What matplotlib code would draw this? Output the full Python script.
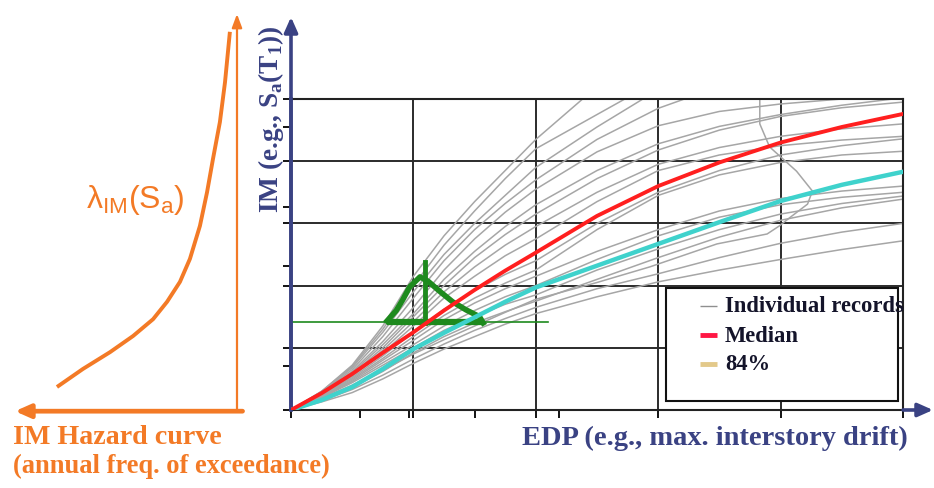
import matplotlib
matplotlib.use("Agg")
import matplotlib.pyplot as plt
import numpy as np
from matplotlib.patches import Rectangle

plt.rcParams["mathtext.fontset"] = "custom"
plt.rcParams["mathtext.rm"] = "Liberation Sans"
plt.rcParams["mathtext.sf"] = "Liberation Sans"
plt.rcParams["mathtext.it"] = "Liberation Sans:italic"
plt.rcParams["mathtext.bf"] = "Liberation Serif:bold"

# ---------------- data ----------------
# common EDP grid (drift units) for the curves
edp = [0, 0.25, 0.5, 0.75, 1.0, 1.25, 1.5, 1.75, 2.0, 2.5, 3.0, 3.5, 4.0, 4.5, 5.0]

median_im = [0, 0.27, 0.58, 0.92, 1.25, 1.60, 1.93, 2.24, 2.53, 3.12, 3.60, 3.98, 4.30, 4.55, 4.76]
p84_im = [0, 0.16, 0.37, 0.66, 0.98, 1.24, 1.49, 1.74, 1.97, 2.32, 2.67, 3.02, 3.36, 3.62, 3.83]

nan = np.nan
records_im = [
    [0, 0.30, 0.72, 1.35, 2.15, 2.80, 3.35, 3.85, 4.35, 5.20, nan, nan, nan, nan, nan],
    [0, 0.30, 0.70, 1.30, 2.00, 2.65, 3.20, 3.72, 4.20, 4.75, 5.30, nan, nan, nan, nan],
    [0, 0.29, 0.68, 1.25, 1.90, 2.50, 3.00, 3.45, 3.90, 4.55, 5.15, nan, nan, nan, nan],
    [0, 0.28, 0.65, 1.18, 1.80, 2.40, 2.90, 3.32, 3.70, 4.35, 4.85, 5.20, nan, nan, nan],
    [0, 0.27, 0.62, 1.10, 1.65, 2.25, 2.75, 3.18, 3.55, 4.15, 4.57, 4.80, 4.92, 5.00, 5.06],
    [0, 0.27, 0.60, 1.05, 1.55, 2.10, 2.55, 2.95, 3.30, 3.85, 4.28, 4.56, 4.75, 4.90, 5.02],
    [0, 0.26, 0.58, 1.00, 1.50, 2.00, 2.45, 2.82, 3.15, 3.72, 4.18, 4.50, 4.72, 4.86, 4.95],
    [0, 0.25, 0.56, 0.96, 1.42, 1.90, 2.30, 2.65, 2.95, 3.50, 3.95, 4.22, 4.40, 4.52, 4.60],
    [0, 0.25, 0.54, 0.92, 1.35, 1.80, 2.15, 2.48, 2.75, 3.35, 3.85, 4.10, 4.25, 4.34, 4.40],
    [0, 0.24, 0.52, 0.87, 1.25, 1.62, 1.92, 2.18, 2.40, 3.00, 3.50, 3.85, 4.10, 4.25, 4.36],
    [0, 0.23, 0.50, 0.83, 1.18, 1.52, 1.80, 2.04, 2.25, 2.90, 3.45, 3.78, 3.98, 4.10, 4.16],
    [0, 0.22, 0.48, 0.80, 1.12, 1.45, 1.72, 1.95, 2.15, 2.55, 2.90, 3.20, 3.40, 3.52, 3.60],
    [0, 0.21, 0.46, 0.76, 1.05, 1.35, 1.60, 1.82, 2.00, 2.42, 2.80, 3.10, 3.30, 3.42, 3.50],
    [0, 0.20, 0.44, 0.72, 1.00, 1.28, 1.50, 1.70, 1.85, 2.25, 2.59, 2.90, 3.15, 3.32, 3.44],
    [0, 0.16, 0.36, 0.62, 0.92, 1.18, 1.40, 1.58, 1.75, 2.10, 2.45, 2.78, 3.05, 3.25, 3.39],
    [0, 0.13, 0.28, 0.50, 0.75, 0.98, 1.18, 1.38, 1.55, 1.82, 2.06, 2.25, 2.42, 2.58, 2.72],
    [0, 0.15, 0.33, 0.56, 0.82, 1.06, 1.28, 1.47, 1.65, 1.95, 2.19, 2.45, 2.68, 2.86, 3.00],
]
# record with drift "resurrection" (loops back)
loop_edp = [0, 0.25, 0.5, 0.75, 1.0, 1.25, 1.5, 1.75, 2.0, 2.5, 2.93, 3.48, 3.89, 3.99,
            4.08, 4.22, 4.26, 4.13, 3.91, 3.83, 3.83]
loop_im = [0, 0.19, 0.40, 0.64, 0.90, 1.13, 1.35, 1.57, 1.78, 2.05, 2.30, 2.67, 2.83, 2.96,
           3.10, 3.31, 3.52, 3.84, 4.23, 4.60, 5.05]

# conditional EDP distribution at a given IM level (green)
im_level = 1.415
pdf_edp = [0.784, 0.86, 0.915, 0.97, 1.054, 1.12, 1.22, 1.32, 1.43, 1.54, 1.57]
pdf_im = [1.43, 1.60, 1.78, 1.98, 2.14, 2.07, 1.90, 1.74, 1.61, 1.50, 1.40]
pdf_mode_edp = 1.095
pdf_mode_top = 2.38
im_line_end = 2.1

# hazard curve: annual freq. (arbitrary, grows to the left) vs IM
haz_freq = [0.811, 0.694, 0.572, 0.468, 0.378, 0.315, 0.257, 0.212, 0.167, 0.135, 0.108,
            0.077, 0.054, 0.032]
haz_im = [0.37, 0.66, 0.93, 1.19, 1.46, 1.74, 2.06, 2.43, 2.96, 3.50, 4.04, 4.63, 5.27, 6.08]

major_ticks = [0, 1, 2, 3, 4, 5]
y_minor = [0.71, 2.32, 3.26, 4.55]
x_minor = [0.56, 0.96, 1.5, 2.19]

legend_labels = ["Individual records", "Median", "84%"]

# ---------------- styles ----------------
W, H = 934, 489
ORANGE = "#f37a26"
NAVY = "#3a4283"
GRAY = "#a6a6a6"
RED = "#ff1f1f"
CYAN = "#3fd2cc"
GREEN = "#1e8a1e"
SERIF = ["Liberation Serif", "DejaVu Serif"]

fig = plt.figure(figsize=(W / 100, H / 100), dpi=100)
fig.patch.set_facecolor("white")


def fx(px):
    return px / W


def fy(py):
    return 1 - py / H


# ---------------- main EDP-IM axes ----------------
ax = fig.add_axes([fx(291), fy(411), (903 - 291) / W, (411 - 100) / H])
ax.set_xlim(0, 5)
ax.set_ylim(0, 5)
ax.set_xticks(major_ticks)
ax.set_yticks(major_ticks)
ax.set_xticks(x_minor, minor=True)
ax.set_yticks(y_minor, minor=True)
ax.tick_params(which="both", direction="out", length=6, width=1.3, color="black",
               labelbottom=False, labelleft=False)
ax.grid(True, which="major", color="#2b2b2b", lw=1.4)
ax.set_axisbelow(True)
for s in ["top", "right", "bottom"]:
    ax.spines[s].set_color("#222222")
    ax.spines[s].set_linewidth(1.5)
ax.spines["left"].set_color(NAVY)
ax.spines["left"].set_linewidth(2.6)

for rec in records_im:
    ax.plot(edp, rec, color=GRAY, lw=1.1, zorder=2)
ax.plot(loop_edp, loop_im, color=GRAY, lw=1.1, zorder=2)

# green conditional distribution
ax.plot([0, im_line_end], [im_level, im_level], color=GREEN, lw=1.2, zorder=3)
ax.plot([pdf_edp[0], pdf_edp[-1]], [im_level, im_level], color=GREEN, lw=4.5,
        solid_capstyle="butt", zorder=3)
ax.plot(pdf_edp, pdf_im, color=GREEN, lw=4.0, zorder=3, solid_joinstyle="round")
ax.plot([pdf_mode_edp, pdf_mode_edp], [im_level - 0.02, pdf_mode_top], color=GREEN,
        lw=3.5, zorder=3)

ax.plot(edp, p84_im, color=CYAN, lw=3.2, zorder=4, solid_capstyle="round")
ax.plot(edp, median_im, color=RED, lw=2.8, zorder=5, solid_capstyle="round")

# axis arrows
ax.annotate("", xy=(0, (411 - 18) / 311), xytext=(0, 0), xycoords="axes fraction",
            arrowprops=dict(arrowstyle="-|>,head_length=0.9,head_width=0.4",
                            color=NAVY, lw=2.6, shrinkA=0, shrinkB=0),
            annotation_clip=False)
ax.annotate("", xy=((933 - 291) / 612, 0), xytext=(1, 0), xycoords="axes fraction",
            arrowprops=dict(arrowstyle="-|>,head_length=0.9,head_width=0.4",
                            color=NAVY, lw=2.6, shrinkA=0, shrinkB=0),
            annotation_clip=False)

# legend (drawn as a framed box in axes fraction units)
def axf(px, py):
    return ((px - 291) / 612, (411 - py) / 311)


bx0, by0 = axf(666, 402)
bx1, by1 = axf(898, 289)
ax.add_patch(Rectangle((bx0, by0), bx1 - bx0, by1 - by0, transform=ax.transAxes,
                       facecolor="white", edgecolor="#111111", lw=1.5, zorder=6))
legend_colors = ["#8f8f8f", "#ff1744", "#e3c98a"]
legend_widths = [1.0, 3.5, 3.5]
legend_rows = [307, 336, 365]
for lab, col, lw_, row in zip(legend_labels, legend_colors, legend_widths, legend_rows):
    (hx0, hy), (hx1, _) = axf(700, row), axf(717, row)
    ax.plot([hx0, hx1], [hy, hy], transform=ax.transAxes, color=col, lw=lw_,
            solid_capstyle="butt", zorder=7, clip_on=False)
    tx, _ = axf(725, row)
    ax.text(tx, hy, lab, transform=ax.transAxes, color="#14142a", fontsize=16.3,
            family=SERIF, weight="bold", ha="left", va="center", zorder=7)

# ---------------- hazard curve axes ----------------
hz = fig.add_axes([fx(15), fy(411), (237 - 15) / W, (411 - 15) / H])
hz.set_xlim(1, 0)
hz.set_ylim(0, (411 - 15) / 62.2)
hz.axis("off")
hz.plot(haz_freq, haz_im, color=ORANGE, lw=2.8, solid_capstyle="butt")
hz.annotate("", xy=(1, 1), xytext=(1, 0), xycoords="axes fraction",
            arrowprops=dict(arrowstyle="-|>,head_length=0.8,head_width=0.3",
                            color=ORANGE, lw=1.6, shrinkA=0, shrinkB=0),
            annotation_clip=False)
hz.annotate("", xy=(0, -0.003), xytext=(1.025, -0.003), xycoords="axes fraction",
            arrowprops=dict(arrowstyle="-|>,head_length=0.9,head_width=0.4",
                            color=ORANGE, lw=3.4, shrinkA=0, shrinkB=0),
            annotation_clip=False)

# ---------------- texts ----------------
fig.text(fx(135), fy(200), r"$\mathrm{\lambda_{IM}(S_a)}$", color=ORANGE,
         fontsize=23, ha="center", va="center")
fig.text(fx(13), fy(438), "IM Hazard curve", color=ORANGE, fontsize=20.2,
         family=SERIF, weight="bold", ha="left", va="center")
fig.text(fx(13), fy(466), "(annual freq. of exceedance)", color=ORANGE, fontsize=19.1,
         family=SERIF, weight="bold", ha="left", va="center")
fig.text(fx(715), fy(438), "EDP (e.g., max. interstory drift)", color=NAVY, fontsize=20.5,
         family=SERIF, weight="bold", ha="center", va="center")
fig.text(fx(271), fy(119), r"IM (e.g., S$_\mathbf{a}$(T$_\mathbf{1}$))", color=NAVY,
         fontsize=19.6, family=SERIF, weight="bold", ha="center", va="center",
         rotation=90)

fig.savefig("out.png", dpi=100, facecolor="white")
